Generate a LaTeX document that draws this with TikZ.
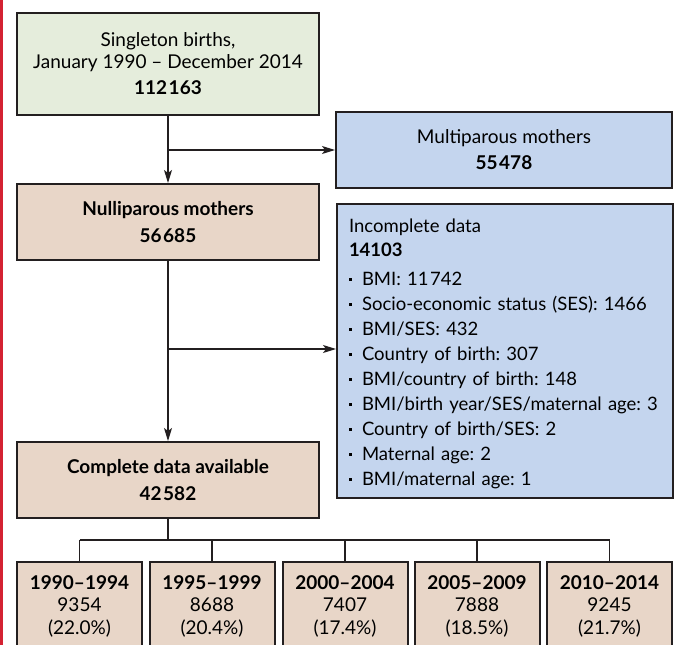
\documentclass[tikz,border=0pt]{standalone}
\usepackage{fontspec}
\setmainfont{Lato}
\frenchspacing
\usetikzlibrary{arrows.meta}
\definecolor{startgreen}{HTML}{E5EDDC}
\definecolor{keptbeige}{HTML}{E8D6C8}
\definecolor{dropblue}{HTML}{C4D5EE}
\definecolor{boxline}{HTML}{231F20}
\definecolor{edgered}{HTML}{D42232}
\newcommand{\sqdot}{\makebox[13pt][l]{\rule[4.5pt]{3pt}{3pt}}}
\newcommand{\thsp}{\kern1.5pt}

\begin{document}
\begin{tikzpicture}[x=1pt,y=-1pt,>/.tip={Stealth[length=13pt,width=8pt,inset=3pt]},
	box/.style={draw=boxline,line width=2pt,inner sep=0pt,align=center,font=\fontsize{19}{25}\selectfont},
	mainbox/.style={box,minimum width=302pt,minimum height=76pt},
	periodbox/.style={box,fill=keptbeige,anchor=north,minimum width=125pt},
	link/.style={draw=boxline,line width=1.3pt}]
	\useasboundingbox (0,0) rectangle (678,645);
	\fill[edgered] (0,0) rectangle (2.5,645);

	\draw (168,64) node (births) [mainbox,fill=startgreen,minimum height=102pt] {Singleton births,\\[-3pt]January 1990 -- December 2014\\[1pt]\textbf{112\thsp163}};
	\draw (504,150) node (multi) [box,fill=dropblue,minimum width=336pt,minimum height=76pt] {Multiparous mothers\\[1pt]\textbf{55\thsp478}};
	\draw (168,222) node (nulli) [mainbox,fill=keptbeige] {\textbf{Nulliparous mothers}\\[2pt]\textbf{56\thsp685}};
	\draw (336,203) node (incomplete) [box,fill=dropblue,anchor=north west,text width=312pt,align=left,inner xsep=12pt,font=\fontsize{18.5}{25}\selectfont] {\rule{0pt}{28pt}Incomplete data\\[-1pt]
		\textbf{14103}\\[4pt]
		\sqdot BMI: 11\thsp742\\
		\sqdot Socio-economic status (SES): 1466\\
		\sqdot BMI/SES: 432\\
		\sqdot Country of birth: 307\\
		\sqdot BMI/country of birth: 148\\
		\sqdot\mbox{BMI/birth year/SES/maternal age: 3}\\
		\sqdot Country of birth/SES: 2\\
		\sqdot Maternal age: 2\\
		\sqdot BMI/maternal age: 1\rule[-13pt]{0pt}{13pt}};
	\draw (168,480) node (complete) [mainbox,fill=keptbeige] {\textbf{Complete data available}\\[2pt]\textbf{42\thsp582}};

	\draw (79.5,561) node (p1) [periodbox] {\rule{0pt}{27pt}\textbf{1990--1994}\\[-2.5pt]9354\\[-2.5pt](22.0\%)\rule[-40pt]{0pt}{40pt}};
	\draw (212,561) node (p2) [periodbox] {\rule{0pt}{27pt}\textbf{1995--1999}\\[-2.5pt]8688\\[-2.5pt](20.4\%)\rule[-40pt]{0pt}{40pt}};
	\draw (345,561) node (p3) [periodbox] {\rule{0pt}{27pt}\textbf{2000--2004}\\[-2.5pt]7407\\[-2.5pt](17.4\%)\rule[-40pt]{0pt}{40pt}};
	\draw (477,561) node (p4) [periodbox] {\rule{0pt}{27pt}\textbf{2005--2009}\\[-2.5pt]7888\\[-2.5pt](18.5\%)\rule[-40pt]{0pt}{40pt}};
	\draw (609.5,561) node (p5) [periodbox] {\rule{0pt}{27pt}\textbf{2010--2014}\\[-2.5pt]9245\\[-2.5pt](21.7\%)\rule[-40pt]{0pt}{40pt}};

	% flow down the left column, side exits to the right
	\coordinate (split1) at (168,150);
	\coordinate (split2) at (168,349);
	\coordinate (split3) at (168,540);
	\draw[link,->] (births) -- (nulli);
	\draw[link,->] (split1) -- (multi);
	\draw[link,->] (nulli) -- (complete);
	\draw[link,->] (split2) -- (split2 -| incomplete.west);

	% split by birth period
	\draw[link] (complete) -- (split3);
	\draw[link] (p1.north |- split3) -- (p5.north |- split3);
	\draw[link] (p1.north) -- (p1.north |- split3);
	\draw[link] (p2.north) -- (p2.north |- split3);
	\draw[link] (p3.north) -- (p3.north |- split3);
	\draw[link] (p4.north) -- (p4.north |- split3);
	\draw[link] (p5.north) -- (p5.north |- split3);
\end{tikzpicture}
\end{document}
